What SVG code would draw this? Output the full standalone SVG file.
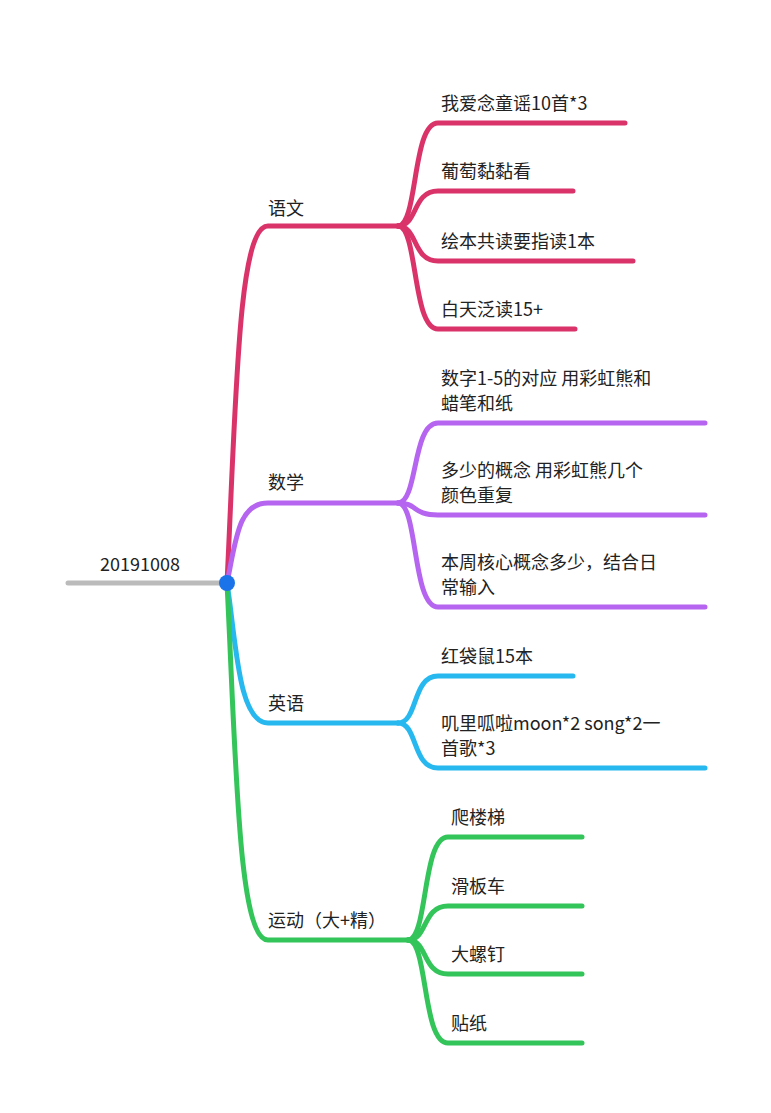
<svg xmlns="http://www.w3.org/2000/svg" width="771" height="1113" viewBox="0 0 771 1113">
<style>
text{font-family:"Noto Sans CJK SC","Liberation Sans",sans-serif;font-size:18px;fill:#222}
path{fill:none;stroke-width:5;stroke-linecap:round}
.r{stroke:#d9336a}.p{stroke:#b565f0}.b{stroke:#27b8f0}.g{stroke:#33c45a}
</style>
<rect width="771" height="1113" fill="#fff"/>
<g id="connectors">
<path d="M68,583 H227" stroke="#bbbbbb"/>
<path class="r" d="M227,583 C236,400 238,226 268,226 H398"/>
<path class="r" d="M398,226 C418,226 412,123 438,123 H625"/>
<path class="r" d="M398,226 C418,226 412,191 438,191 H573"/>
<path class="r" d="M398,226 C418,226 412,261 438,261 H633"/>
<path class="r" d="M398,226 C418,226 412,329 438,329 H575"/>
<path class="p" d="M227,583 C236,540 238,503 268,503 H398"/>
<path class="p" d="M398,503 C418,503 412,423 438,423 H705"/>
<path class="p" d="M398,503 C418,503 412,515 438,515 H705"/>
<path class="p" d="M398,503 C418,503 412,607 438,607 H705"/>
<path class="b" d="M227,583 C236,640 238,723 268,723 H398"/>
<path class="b" d="M398,723 C418,723 412,676 438,676 H573"/>
<path class="b" d="M398,723 C418,723 412,768 438,768 H705"/>
<path class="g" d="M227,583 C236,760 238,940 268,940 H408"/>
<path class="g" d="M408,940 C428,940 422,837 448,837 H582"/>
<path class="g" d="M408,940 C428,940 422,906 448,906 H582"/>
<path class="g" d="M408,940 C428,940 422,974 448,974 H582"/>
<path class="g" d="M408,940 C428,940 422,1043 448,1043 H582"/>
</g>
<g id="root"><text x="100" y="571">20191008</text><circle cx="227" cy="583" r="8" fill="#1a73e8"/></g>
<g id="yuwen"><text x="268" y="215">语文</text></g>
<g id="n1"><text x="441" y="110">我爱念童谣10首*3</text></g>
<g id="n2"><text x="441" y="178">葡萄黏黏看</text></g>
<g id="n3"><text x="441" y="248">绘本共读要指读1本</text></g>
<g id="n4"><text x="441" y="316">白天泛读15+</text></g>
<g id="shuxue"><text x="268" y="489">数学</text></g>
<g id="n5"><text x="441" y="385">数字1-5的对应 用彩虹熊和</text><text x="441" y="410">蜡笔和纸</text></g>
<g id="n6"><text x="441" y="477">多少的概念 用彩虹熊几个</text><text x="441" y="502">颜色重复</text></g>
<g id="n7"><text x="441" y="569">本周核心概念多少，结合日</text><text x="441" y="594">常输入</text></g>
<g id="yingyu"><text x="268" y="710">英语</text></g>
<g id="n8"><text x="441" y="663">红袋鼠15本</text></g>
<g id="n9"><text x="441" y="730">叽里呱啦moon*2 song*2一</text><text x="441" y="755">首歌*3</text></g>
<g id="yundong"><text x="268" y="927">运动（大+精）</text></g>
<g id="n10"><text x="451" y="824">爬楼梯</text></g>
<g id="n11"><text x="451" y="893">滑板车</text></g>
<g id="n12"><text x="451" y="961">大螺钉</text></g>
<g id="n13"><text x="451" y="1030">贴纸</text></g>
</svg>
